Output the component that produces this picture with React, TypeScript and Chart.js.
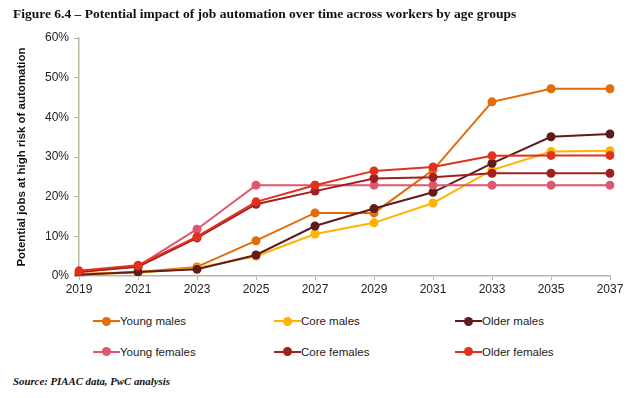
import React, { useEffect, useRef } from "react";
import { Chart, registerables } from "chart.js";

Chart.register(...registerables);

const years = ["2019", "2021", "2023", "2025", "2027", "2029", "2031", "2033", "2035", "2037"];

const youngMales = [0.5, 1.0, 2.3, 8.9, 15.9, 15.9, 26.7, 43.9, 47.2, 47.2];
const coreMales = [0.5, 0.8, 2.0, 5.0, 10.6, 13.4, 18.4, 26.7, 31.4, 31.6];
const olderMales = [0.3, 1.0, 1.7, 5.3, 12.6, 17.0, 21.1, 28.4, 35.1, 35.8];
const youngFemales = [1.0, 2.5, 11.8, 22.9, 22.9, 22.9, 22.9, 22.9, 22.9, 22.9];
const coreFemales = [1.0, 2.3, 9.6, 18.1, 21.4, 24.6, 24.9, 25.9, 25.9, 25.9];
const olderFemales = [1.3, 2.7, 9.9, 18.7, 22.9, 26.5, 27.5, 30.3, 30.4, 30.4];

const seriesNames = ["Young males", "Core males", "Older males", "Young females", "Core females", "Older females"];
const seriesColors = ["#E36C0A", "#FFB300", "#5E1C1C", "#E0566E", "#A31E1E", "#E2301F"];
const seriesData = [youngMales, coreMales, olderMales, youngFemales, coreFemales, olderFemales];

const yTicks = [0, 10, 20, 30, 40, 50, 60];

const axisColor = "#BDB6A4";
const textColor = "#222222";

export default function App() {
  const canvasRef = useRef<HTMLCanvasElement | null>(null);

  useEffect(() => {
    if (!canvasRef.current) return;
    const chart = new Chart(canvasRef.current, {
      type: "line",
      data: {
        labels: years,
        datasets: seriesData.map((d, i) => ({
          label: seriesNames[i],
          data: d,
          borderColor: seriesColors[i],
          backgroundColor: seriesColors[i],
          pointBackgroundColor: seriesColors[i],
          pointBorderColor: seriesColors[i],
          pointRadius: 4.5,
          pointBorderWidth: 0,
          borderWidth: 2,
          tension: 0,
          fill: false,
          order: seriesData.length - i,
        })),
      },
      options: {
        animation: false,
        responsive: true,
        maintainAspectRatio: false,
        layout: { padding: { top: 38, right: 30, bottom: 0, left: 0 } },
        plugins: {
          legend: { display: false },
          tooltip: { enabled: false },
        },
        scales: {
          x: {
            offset: false,
            afterFit: (scale: any) => {
              scale.height = 29;
            },
            grid: {
              display: true,
              drawOnChartArea: false,
              drawTicks: true,
              tickLength: 4,
              color: axisColor,
              lineWidth: 1,
            },
            border: { display: true, color: axisColor, width: 1.5 },
            ticks: {
              color: textColor,
              font: { family: "Liberation Sans, Arial", size: 12 },
              padding: 2,
              maxRotation: 0,
              autoSkip: false,
            },
          },
          y: {
            min: 0,
            max: 60,
            afterFit: (scale: any) => {
              scale.width = 79;
            },
            afterBuildTicks: (scale: any) => {
              scale.ticks = yTicks.map((v) => ({ value: v }));
            },
            grid: {
              display: true,
              drawOnChartArea: false,
              drawTicks: true,
              tickLength: 5,
              color: axisColor,
              lineWidth: 1,
            },
            border: { display: true, color: axisColor, width: 1.5 },
            ticks: {
              color: textColor,
              font: { family: "Liberation Sans, Arial", size: 12 },
              padding: 5,
              callback: (v: any) => v + "%",
            },
            title: {
              display: true,
              text: "Potential jobs at high risk of automation",
              color: "#111111",
              font: { family: "Liberation Sans, Arial", size: 11.5, weight: "bold" },
              padding: { top: 15, bottom: 0 },
            },
          },
        },
      },
    });
    return () => chart.destroy();
  }, []);

  const legendCols = [93, 274, 455];
  const legendRows = [321, 351.5];

  return (
    <div
      style={{
        position: "fixed",
        left: 0,
        top: 0,
        width: 640,
        height: 398,
        background: "#ffffff",
        overflow: "hidden",
      }}
    >
      <div style={{ position: "absolute", left: 0, top: 0, width: 640, height: 305 }}>
        <canvas ref={canvasRef} />
      </div>
      <div
        style={{
          position: "absolute",
          left: 13,
          top: 6,
          fontFamily: "Liberation Serif, Times New Roman, serif",
          fontWeight: "bold",
          fontSize: 13.5,
          color: "#111111",
          whiteSpace: "nowrap",
        }}
      >
        Figure 6.4 – Potential impact of job automation over time across workers by age groups
      </div>
      {seriesNames.map((name, i) => {
        const x = legendCols[i % 3];
        const y = legendRows[Math.floor(i / 3)];
        return (
          <div key={name} style={{ position: "absolute", left: x, top: y - 9, height: 18, whiteSpace: "nowrap" }}>
            <div
              style={{
                position: "absolute",
                left: 0,
                top: 8,
                width: 27,
                height: 2,
                background: seriesColors[i],
              }}
            />
            <div
              style={{
                position: "absolute",
                left: 9,
                top: 4.5,
                width: 9,
                height: 9,
                borderRadius: "50%",
                background: seriesColors[i],
              }}
            />
            <div
              style={{
                position: "absolute",
                left: 27,
                top: 1,
                fontFamily: "Liberation Sans, Arial",
                fontSize: 11.5,
                color: textColor,
                lineHeight: "16px",
              }}
            >
              {name}
            </div>
          </div>
        );
      })}
      <div
        style={{
          position: "absolute",
          left: 13,
          top: 375,
          fontFamily: "Liberation Serif, Times New Roman, serif",
          fontWeight: "bold",
          fontStyle: "italic",
          fontSize: 10.8,
          color: "#111111",
          whiteSpace: "nowrap",
        }}
      >
        Source: PIAAC data, PwC analysis
      </div>
    </div>
  );
}
